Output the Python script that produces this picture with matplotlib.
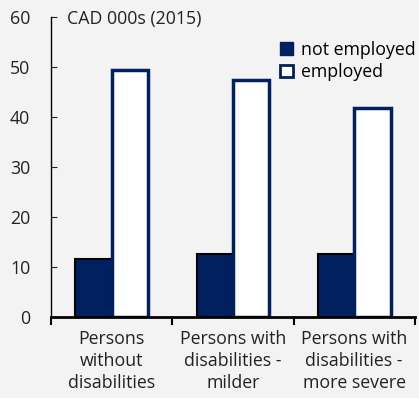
import numpy as np
import matplotlib.pyplot as plt
from matplotlib.patches import Patch

categories = ["Persons\nwithout\ndisabilities",
              "Persons with\ndisabilities -\nmilder",
              "Persons with\ndisabilities -\nmore severe"]
not_employed = [11.6, 12.6, 12.6]
employed = [49.4, 47.4, 41.8]

navy = "#002060"
bg = "#f2f3f2"
fs = 12.8

plt.rcParams["font.family"] = ["Open Sans", "DejaVu Sans"]
plt.rcParams["font.size"] = fs

fig = plt.figure(figsize=(4.19, 3.98), dpi=100, facecolor=bg)
ax = fig.add_axes([0.122, 0.2035, 0.868, 0.7535], facecolor=bg)

x = np.arange(len(categories))
w = 0.3
ax.bar(x - w / 2, not_employed, w, color=navy, edgecolor="black", linewidth=1.5, zorder=2)
ax.bar(x + w / 2, employed, w, color="white", edgecolor=navy, linewidth=2.5, zorder=2)

ax.set_xlim(-0.5, 2.5)
ax.set_ylim(0, 60)
ax.set_yticks(range(0, 61, 10))
ax.tick_params(axis="y", direction="in", length=4, pad=15, colors="#222222", labelsize=fs)
ax.set_xticks([-0.5, 0.5, 1.5, 2.5], minor=False)
ax.set_xticklabels([])
ax.tick_params(axis="x", direction="out", length=6, width=1.5, color="black")
ax.set_xticks(x, minor=True)
ax.set_xticklabels(categories, minor=True, fontsize=fs, color="#222222", linespacing=1.3)
ax.tick_params(axis="x", which="minor", length=0, pad=9)

for s in ["top", "right"]:
    ax.spines[s].set_visible(False)
ax.spines["left"].set_linewidth(1.0)
ax.spines["bottom"].set_linewidth(2.0)

ax.text(0.045, 0.995, "CAD 000s (2015)", transform=ax.transAxes, ha="left", va="center",
        fontsize=fs, color="#222222")

handles = [Patch(facecolor=navy, edgecolor=navy, linewidth=1),
           Patch(facecolor="white", edgecolor=navy, linewidth=2)]
ax.legend(handles, ["not employed", "employed"], loc="upper right",
          bbox_to_anchor=(1.045, 0.975), frameon=False, handlelength=0.7, handleheight=0.7,
          handletextpad=0.45, labelspacing=0.25, fontsize=fs)

fig.savefig("out.png", dpi=100, facecolor=bg)
